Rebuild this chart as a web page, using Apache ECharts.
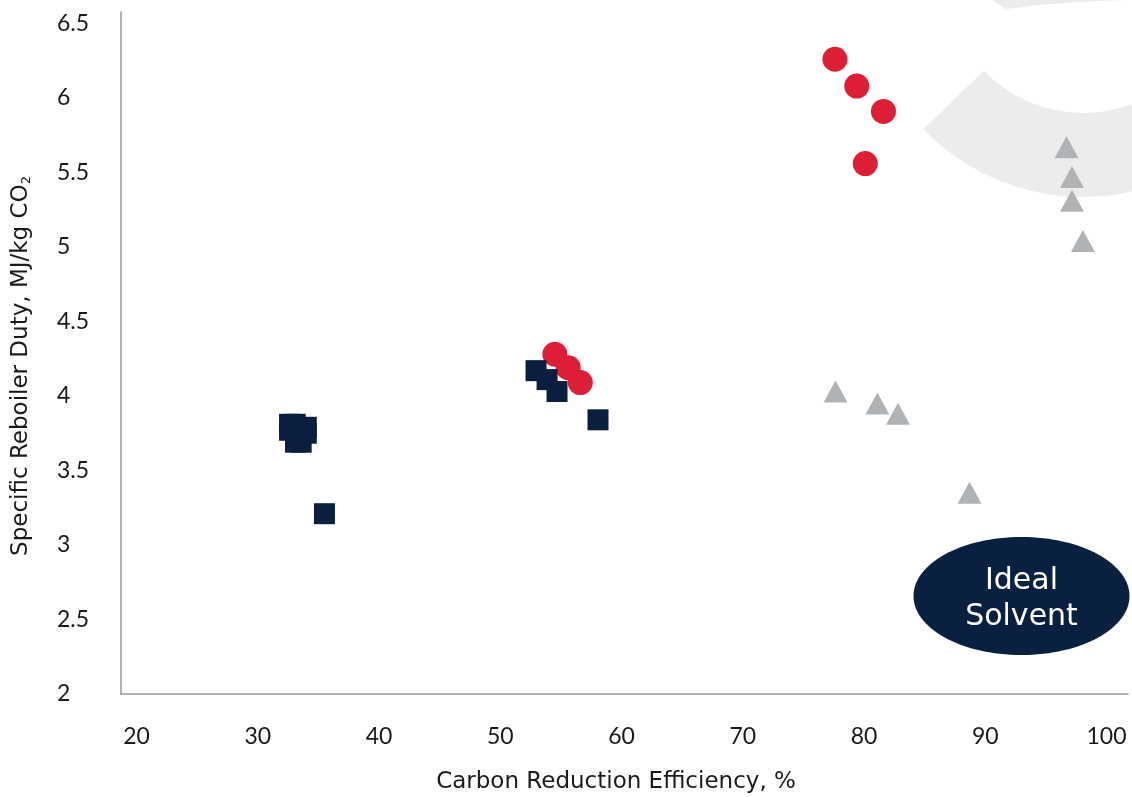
<!DOCTYPE html>
<html>
<head>
<meta charset="utf-8">
<script src="https://cdn.jsdelivr.net/npm/echarts@6/dist/echarts.min.js"></script>
<style>
html,body{margin:0;padding:0;background:#fff;}
#chart{width:1132px;height:797px;}
</style>
</head>
<body>
<div id="chart"></div>
<script>
// Tick labels
const xTicks = [20, 30, 40, 50, 60, 70, 80, 90, 100];
const yTicks = [2, 2.5, 3, 3.5, 4, 4.5, 5, 5.5, 6, 6.5];

// Red circles
const circleX = [77.6, 79.4, 81.6, 80.1, 54.5, 55.6, 56.6];
const circleY = [6.26, 6.08, 5.91, 5.56, 4.28, 4.19, 4.09];

// Navy squares
const squareX = [52.95, 53.86, 54.68, 58.06, 32.62, 33.09, 34.0, 34.0, 32.62, 33.11, 33.58, 35.5];
const squareY = [4.17, 4.11, 4.03, 3.84, 3.81, 3.81, 3.79, 3.75, 3.77, 3.69, 3.69, 3.21];

// Grey triangles
const triX = [77.65, 81.1, 82.8, 88.7, 96.7, 97.15, 97.15, 98.05];
const triY = [4.03, 3.95, 3.88, 3.35, 5.67, 5.47, 5.31, 5.04];

const pairs = (xs, ys) => xs.map((x, i) => [x, ys[i]]);

const TICKFONT = 'Lato, "Open Sans", sans-serif';
const NAMEFONT = '"DejaVu Sans", "Open Sans", sans-serif';
const TXT = '#1a1a1a';
const chart = echarts.init(document.getElementById('chart'));

chart.setOption({
  animation: false,
  backgroundColor: '#ffffff',
  grid: { left: 121, right: 4, top: 12, bottom: 103, containLabel: false, outerBoundsMode: 'none' },
  xAxis: {
    type: 'value',
    min: 18.72,
    max: 101.77,
    splitLine: { show: false },
    axisTick: { show: false },
    axisLine: { show: true, lineStyle: { color: '#999999', width: 1.5 } },
    axisLabel: {
      customValues: xTicks,
      margin: 31,
      fontSize: 23,
      fontFamily: TICKFONT,
      color: TXT,
      showMinLabel: true,
      showMaxLabel: true
    },
    name: 'Carbon Reduction Efficiency, %',
    nameLocation: 'middle',
    nameGap: 77,
    nameTextStyle: { fontSize: 23, fontFamily: NAMEFONT, color: TXT, padding: [0, 17, 0, 0] }
  },
  yAxis: {
    type: 'value',
    min: 2,
    max: 6.577,
    splitLine: { show: false },
    axisTick: { show: false },
    axisLine: { show: true, lineStyle: { color: '#999999', width: 1.5 } },
    axisLabel: {
      customValues: yTicks,
      margin: 64,
      align: 'left',
      fontSize: 23,
      fontFamily: TICKFONT,
      color: TXT,
      showMinLabel: true,
      showMaxLabel: true
    },
    name: 'Specific Reboiler Duty, MJ/kg CO{sub|2}',
    nameLocation: 'middle',
    nameGap: 88,
    nameRotate: 90,
    nameTextStyle: {
      fontSize: 23, fontFamily: NAMEFONT, color: TXT, padding: [0, 26, 0, 0],
      rich: { sub: { fontSize: 13, fontFamily: NAMEFONT, color: TXT, padding: [11, 0, 0, 0] } }
    }
  },
  graphic: [
    {
      type: 'sector',
      z: -10,
      silent: true,
      shape: { cx: 1083, cy: -25, r: 222, r0: 138, startAngle: -0.5, endAngle: 2.374, clockwise: true },
      style: { fill: '#ececec' }
    },
    {
      type: 'polygon',
      z: -10,
      silent: true,
      shape: { points: [[992, 0], [1006, 9], [1040, 5], [1080, 2], [1123, 0]] },
      style: { fill: '#ececec' }
    },
    {
      type: 'ellipse',
      z: 100,
      silent: true,
      shape: { cx: 1021.5, cy: 596, rx: 108, ry: 59 },
      style: { fill: '#0a2040' }
    },
    {
      type: 'text',
      z: 101,
      silent: true,
      x: 1021.5,
      y: 599,
      style: {
        text: 'Ideal\nSolvent',
        fill: '#ffffff',
        font: '30px ' + NAMEFONT,
        align: 'center',
        verticalAlign: 'middle',
        lineHeight: 36
      }
    }
  ],
  series: [
    {
      name: 'Triangles',
      type: 'scatter',
      symbol: 'triangle',
      symbolSize: [24, 22],
      itemStyle: { color: '#b0b3b6', opacity: 1 },
      data: pairs(triX, triY),
      z: 3
    },
    {
      name: 'Circles',
      type: 'scatter',
      symbol: 'circle',
      symbolSize: 25,
      itemStyle: { color: '#dc1f36', opacity: 1 },
      data: pairs(circleX, circleY),
      z: 4
    },
    {
      name: 'Squares',
      type: 'scatter',
      symbol: 'rect',
      symbolSize: 21,
      itemStyle: { color: '#0a1f3f', opacity: 1 },
      data: pairs(squareX, squareY),
      z: 5
    }
  ]
});
</script>
</body>
</html>
